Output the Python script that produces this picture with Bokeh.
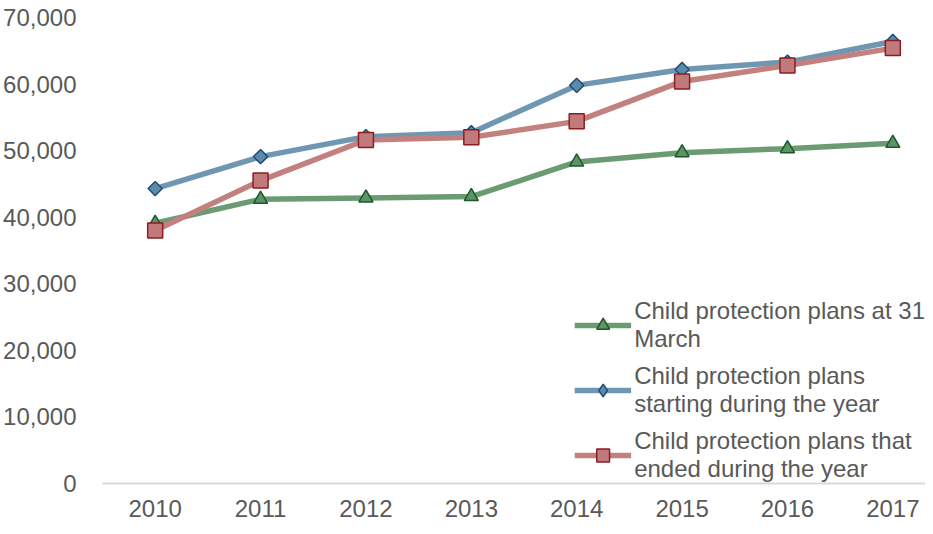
import math
from bokeh.plotting import figure
from bokeh.models import ColumnDataSource, Legend, LegendItem, FixedTicker, NumeralTickFormatter, Range1d
from bokeh.embed import file_html
from bokeh.resources import INLINE

years = [2010, 2011, 2012, 2013, 2014, 2015, 2016, 2017]
at_31_march = [39100, 42700, 42900, 43100, 48300, 49700, 50300, 51100]
starting = [44300, 49100, 52100, 52700, 59800, 62200, 63300, 66400]
ended = [38000, 45500, 51600, 52000, 54400, 60400, 62800, 65400]

labels = ["Child protection plans at 31\nMarch",
          "Child protection plans\nstarting during the year",
          "Child protection plans that\nended during the year"]

FONT = "Liberation Sans"
TXT = "#595959"
FS = "24px"

p = figure(width=925, height=526, output_backend="svg", toolbar_location=None,
           x_range=Range1d(2009.5, 2017.31), y_range=Range1d(0, 70000),
           min_border_left=102, min_border_right=0, min_border_top=17, min_border_bottom=43)
p.outline_line_color = None
p.xgrid.grid_line_color = None
p.ygrid.grid_line_color = None
p.background_fill_color = "white"

src = ColumnDataSource(dict(x=years, a=at_31_march, s=starting, e=ended))

r1 = p.line("x", "a", source=src, line_color="#6B9B72", line_width=5.5)
m1 = p.scatter("x", "a", source=src, marker="triangle", size=14, fill_color="#5E9268",
               line_color="#1B5A27", line_width=1.5)
r2 = p.line("x", "s", source=src, line_color="#7097B2", line_width=5.5)
m2 = p.scatter("x", "s", source=src, marker="square", angle=math.pi / 4, size=10,
               fill_color="#5E8BAA", line_color="#1F4E79", line_width=1.5)
m2_key = p.scatter("x", "s", source=src, marker="diamond", size=14, fill_color="#5E8BAA",
                   line_color="#1F4E79", line_width=1.5, visible=False)
r3 = p.line("x", "e", source=src, line_color="#C2807F", line_width=5.5)
m3 = p.scatter("x", "e", source=src, marker="square", size=15, fill_color="#C07A7C",
               line_color="#8C1D22", line_width=1.5)

legend = Legend(items=[LegendItem(label=labels[0], renderers=[r1, m1]),
                       LegendItem(label=labels[1], renderers=[r2, m2_key]),
                       LegendItem(label=labels[2], renderers=[r3, m3])],
                location="bottom_right", background_fill_alpha=0, border_line_color=None,
                label_text_font=FONT, label_text_font_size=FS, label_text_color=TXT,
                glyph_width=57, glyph_height=32, label_standoff=3, spacing=9, padding=0,
                margin=0, label_text_line_height=1.12)
p.add_layout(legend, "center")

p.xaxis.ticker = FixedTicker(ticks=years)
p.yaxis.ticker = FixedTicker(ticks=[0, 10000, 20000, 30000, 40000, 50000, 60000, 70000])
p.yaxis.formatter = NumeralTickFormatter(format="0,0")
for ax in (p.xaxis, p.yaxis):
    ax.major_tick_line_color = None
    ax.minor_tick_line_color = None
    ax.major_label_text_font = FONT
    ax.major_label_text_font_size = FS
    ax.major_label_text_color = TXT
p.yaxis.axis_line_color = None
p.yaxis.major_label_standoff = 20
p.xaxis.axis_line_color = "#D9D9D9"
p.xaxis.axis_line_width = 2
p.xaxis.major_label_standoff = 10

open("out.html", "w").write(file_html(p, INLINE))
